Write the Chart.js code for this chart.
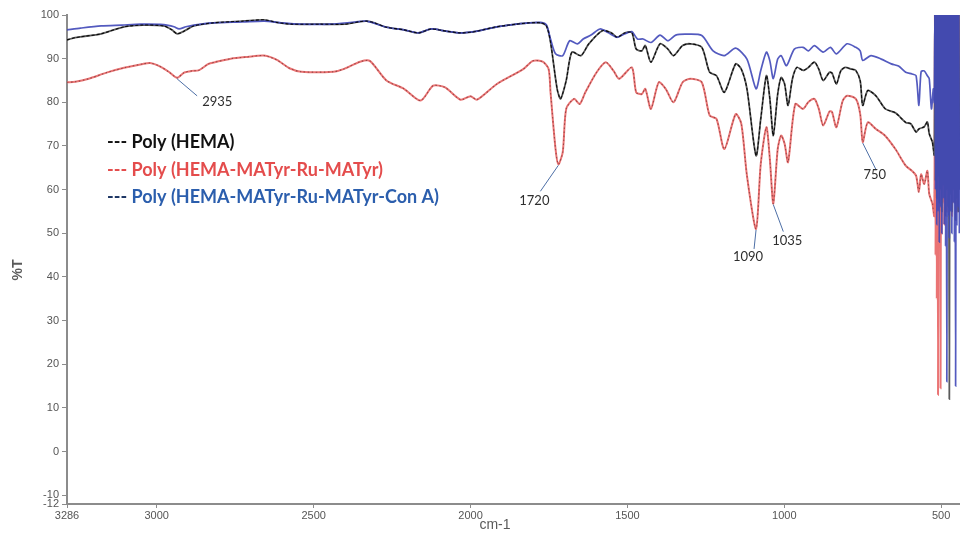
<!DOCTYPE html>
<html>
<head>
<meta charset="utf-8">
<script src="https://cdn.jsdelivr.net/npm/chart.js@4.4.1/dist/chart.umd.min.js"></script>
<style>
  html, body { margin: 0; padding: 0; background: #ffffff; }
  #wrap { width: 960px; height: 534px; position: relative; }
</style>
</head>
<body>
<div id="wrap"><canvas id="c" width="960" height="534"></canvas></div>
<script>
// Axis ticks
const xTicks = [3286, 3000, 2500, 2000, 1500, 1000, 500];
const yTicks = [100, 90, 80, 70, 60, 50, 40, 30, 20, 10, 0, -10, -12];

// Series names
const seriesNames = [
  'Poly (HEMA)',
  'Poly (HEMA-MATyr-Ru-MATyr)',
  'Poly (HEMA-MATyr-Ru-MATyr-Con A)'
];

// Poly(HEMA): wavenumber (cm-1) and transmittance (%T)
const hemaWn = [3286, 3260, 3243, 3177, 3104, 3044, 2978, 2952, 2935, 2913, 2882, 2820, 2726, 2658, 2617, 2571, 2477, 2399, 2352, 2331, 2306, 2268, 2212, 2166, 2125, 2078, 2032, 1994, 1979, 1916, 1854, 1814, 1776, 1758, 1745, 1724, 1713, 1695, 1677, 1648, 1623, 1580, 1551, 1533, 1508, 1486, 1472, 1454, 1443, 1425, 1396, 1371, 1353, 1324, 1299, 1263, 1238, 1216, 1191, 1155, 1137, 1119, 1090, 1075, 1057, 1046, 1035, 1021, 1010, 999, 988, 974, 960, 940, 923, 904, 890, 876, 856, 848, 834, 820, 806, 786, 772, 758, 750, 734, 708, 678, 646, 613, 597, 580, 571, 554, 544, 538, 528,
  522, 520, 518, 516, 514, 512, 510, 508, 506, 504, 502, 500, 498, 496, 494, 492, 490, 488, 486, 484, 482, 480, 478, 476, 474, 472, 470, 468, 466, 464, 462, 460, 458, 456, 454, 452, 450, 448, 446, 444, 442];
const hemaT = [94.3, 94.8, 95.0, 95.7, 97.3, 97.7, 97.5, 96.6, 95.7, 96.3, 97.5, 98.2, 98.6, 98.9, 98.3, 97.9, 97.9, 97.9, 98.5, 98.6, 98.2, 97.2, 96.6, 95.9, 96.8, 96.3, 95.9, 96.1, 96.3, 97.3, 97.9, 98.2, 98.2, 97.5, 93.8, 83.1, 80.8, 85.0, 91.5, 90.7, 93.4, 96.4, 95.9, 94.9, 95.9, 96.0, 92.2, 91.8, 93.0, 89.2, 93.4, 92.2, 90.7, 93.0, 93.4, 92.6, 86.9, 86.1, 82.3, 88.8, 87.6, 83.1, 67.8, 76.2, 86.1, 80.8, 72.4, 81.9, 85.7, 84.2, 79.3, 85.4, 88.0, 87.3, 88.0, 89.2, 87.6, 85.0, 86.9, 86.7, 84.2, 87.2, 88.0, 87.6, 87.3, 84.9, 79.3, 82.7, 81.5, 78.5, 77.6, 75.4, 75.1, 73.2, 73.9, 74.4, 75.5, 72.8, 70.9,
  68, 100, 62, 100, 58, 100, 63, 100, 57, 100, 60, 100, 55, 100, 61, 100, 58, 100, 54, 100, 60, 100, 56, 100, 12, 100, 59, 100, 55, 100, 60, 100, 57, 100, 53, 100, 58, 100, 55, 100, 60];

// Poly(HEMA-MATyr-Ru-MATyr)
const ruWn = [3286, 3260, 3217, 3160, 3104, 3044, 3021, 2995, 2962, 2935, 2913, 2888, 2867, 2835, 2814, 2764, 2711, 2658, 2617, 2577, 2539, 2437, 2405, 2352, 2321, 2268, 2212, 2159, 2119, 2081, 2032, 2000, 1979, 1916, 1832, 1801, 1770, 1751, 1745, 1729, 1720, 1706, 1695, 1670, 1652, 1634, 1598, 1569, 1544, 1526, 1486, 1472, 1454, 1443, 1425, 1400, 1378, 1353, 1324, 1299, 1263, 1238, 1216, 1191, 1155, 1137, 1119, 1090, 1075, 1057, 1046, 1035, 1021, 1010, 999, 988, 965, 940, 923, 904, 890, 876, 856, 848, 834, 814, 800, 772, 758, 750, 734, 708, 678, 646, 613, 593, 580, 571, 564, 554, 544, 538, 528,
  522, 520, 518, 516, 514, 512, 510, 508, 506, 504, 502, 500, 498, 496, 494, 492, 490, 488, 486, 484, 482, 480, 478, 476, 474, 472, 470, 468, 466, 464, 462, 460, 458, 456, 454, 452, 450, 448, 446, 444, 442];
const ruT = [84.6, 84.7, 85.4, 86.8, 87.9, 88.8, 89.0, 88.4, 87.0, 85.6, 86.8, 87.2, 87.3, 88.8, 89.2, 90.0, 90.4, 90.7, 89.7, 87.8, 87.0, 87.0, 87.6, 89.3, 89.5, 85.0, 83.1, 80.4, 83.8, 83.4, 80.6, 81.4, 80.6, 84.2, 87.6, 89.5, 89.3, 87.6, 82.3, 69.3, 65.8, 68.6, 78.5, 80.8, 79.6, 82.3, 86.9, 89.2, 87.2, 85.4, 88.0, 82.3, 81.9, 83.1, 78.5, 84.6, 83.1, 80.0, 84.6, 85.4, 84.6, 77.0, 76.2, 69.3, 77.3, 75.1, 63.2, 51.0, 65.9, 74.3, 67.0, 56.8, 69.3, 72.4, 70.5, 66.3, 79.6, 78.5, 80.1, 80.8, 78.5, 74.7, 77.9, 77.8, 74.3, 80.3, 81.5, 80.8, 77.3, 70.9, 75.4, 73.9, 72.3, 69.3, 65.5, 64.3, 63.2, 59.5, 63.5, 61.3, 64.3, 59.0, 56.8,
  54, 100, 45, 100, 35, 100, 13, 100, 58, 100, 14.5, 100, 50, 100, 57, 100, 52, 100, 60, 100, 55, 100, 61, 100, 56, 100, 59, 100, 54, 100, 60, 100, 57, 100, 62, 100, 55, 100, 58, 100, 61];

// Poly(HEMA-MATyr-Ru-MATyr-Con A)
const conAWn = [3286, 3243, 3177, 3111, 3051, 2978, 2945, 2929, 2907, 2882, 2820, 2726, 2658, 2602, 2539, 2446, 2368, 2331, 2268, 2212, 2166, 2125, 2078, 2032, 1979, 1916, 1854, 1814, 1776, 1758, 1745, 1729, 1706, 1684, 1659, 1641, 1616, 1587, 1562, 1533, 1508, 1486, 1468, 1450, 1425, 1396, 1371, 1346, 1310, 1263, 1227, 1191, 1155, 1119, 1090, 1075, 1057, 1046, 1035, 1021, 1010, 993, 968, 940, 923, 904, 876, 853, 834, 800, 772, 758, 750, 724, 691, 659, 636, 613, 593, 580, 571, 564, 554, 544, 538, 531, 525,
  522, 520, 518, 516, 514, 512, 510, 508, 506, 504, 502, 500, 498, 496, 494, 492, 490, 488, 486, 484, 482, 480, 478, 476, 474, 472, 470, 468, 466, 464, 462, 460, 458, 456, 454, 452, 450, 448, 446, 444, 442];
const conAT = [96.6, 97.0, 97.5, 97.7, 97.9, 97.8, 97.3, 96.8, 97.3, 97.7, 98.2, 98.4, 98.6, 98.2, 97.9, 97.9, 98.4, 98.6, 97.2, 96.6, 95.9, 96.8, 96.3, 95.9, 96.3, 97.3, 97.9, 98.2, 98.3, 97.7, 94.5, 91.1, 90.7, 94.1, 93.4, 94.5, 95.4, 96.8, 96.0, 94.9, 95.7, 96.2, 94.5, 94.5, 93.7, 95.4, 94.1, 95.4, 95.6, 95.3, 91.8, 90.7, 92.4, 89.9, 83.1, 87.3, 91.5, 89.5, 85.4, 89.9, 90.7, 88.4, 92.2, 92.6, 91.8, 93.0, 91.5, 92.6, 91.1, 93.4, 92.6, 91.8, 89.6, 90.7, 89.9, 88.8, 88.3, 86.9, 86.5, 86.1, 79.3, 87.0, 87.2, 86.1, 85.4, 78.5, 83.1,
  80, 100, 60, 100, 52, 100, 55, 100, 48, 100, 56, 100, 50, 100, 58, 100, 52, 100, 47, 100, 16, 100, 54, 100, 49, 100, 55, 100, 50, 100, 57, 100, 48, 100, 15, 100, 52, 100, 56, 100, 50];

// Absorption bands marked on the Poly(HEMA-MATyr-Ru-MATyr) trace
const peakWn = [2935, 1720, 1090, 1035, 750];

// ---- styling ----
const lineColors = ['#5a5a5a', '#ea7474', 'rgba(64, 72, 184, 0.9)'];
const legendColors = ['#111111', '#e44c4c', '#2b5ead'];
const legendDashColors = ['#111111', '#e44c4c', '#1b3463'];
const dashOverlay = ['#000000', '#5a2020', null];
const overlayStopWn = 524; // dashed texture is left off the noisy low-frequency end
// callout geometry relative to the marked point: leader end and label centre
const callouts = [
  { lx: 20, ly: 18, tx: 25, ty: 24, align: 'left' },
  { lx: -18, ly: 27, tx: -24, ty: 36, align: 'center' },
  { lx: -2, ly: 20, tx: -8, ty: 28, align: 'center' },
  { lx: 10, ly: 28, tx: 14, ty: 37, align: 'center' },
  { lx: 13, ly: 27, tx: 12, ty: 33, align: 'center' }
];

function toPoints(wn, t) { return wn.map((w, i) => ({ x: w, y: t[i] })); }

const overlayPlugin = {
  id: 'spectrumExtras',
  afterDatasetsDraw(chart) {
    const ctx = chart.ctx;
    const area = chart.chartArea;
    const stopX = chart.scales.x.getPixelForValue(overlayStopWn);
    ctx.save();
    ctx.beginPath();
    ctx.rect(area.left, area.top, stopX - area.left, area.bottom - area.top);
    ctx.clip();
    chart.data.datasets.forEach((ds, i) => {
      if (!dashOverlay[i]) return;
      const el = chart.getDatasetMeta(i).dataset;
      ctx.beginPath();
      el.path(ctx);
      ctx.setLineDash(i === 0 ? [3, 2] : [1.5, 2.5]);
      ctx.strokeStyle = dashOverlay[i];
      ctx.globalAlpha = i === 0 ? 0.9 : 0.55;
      ctx.lineWidth = 1.1;
      ctx.stroke();
    });
    ctx.restore();
  },
  afterDraw(chart) {
    const ctx = chart.ctx;
    ctx.save();

    // axis titles
    ctx.fillStyle = '#5a5a5a';
    ctx.font = 'bold 14px "Liberation Sans", Arial, sans-serif';
    ctx.textAlign = 'center';
    ctx.textBaseline = 'middle';
    ctx.save();
    ctx.translate(18, 270);
    ctx.rotate(-Math.PI / 2);
    ctx.fillText('%T', 0, 0);
    ctx.restore();
    ctx.font = '14px "Liberation Sans", Arial, sans-serif';
    ctx.fillText('cm-1', 495, 525);

    // legend
    const legendY = [142, 170, 197];
    ctx.textAlign = 'left';
    ctx.font = 'bold 18px Lato, "Open Sans", sans-serif';
    seriesNames.forEach((name, i) => {
      ctx.fillStyle = legendDashColors[i];
      ctx.fillText('---', 107, legendY[i]);
      const w = ctx.measureText('--- ').width;
      ctx.fillStyle = legendColors[i];
      ctx.fillText(name, 107 + w, legendY[i]);
    });

    // band callouts on the red trace
    const meta = chart.getDatasetMeta(1);
    ctx.font = '13px Lato, "Open Sans", sans-serif';
    peakWn.forEach((wn, k) => {
      const idx = ruWn.indexOf(wn);
      if (idx < 0) return;
      const p = meta.data[idx];
      const c = callouts[k];
      ctx.strokeStyle = '#4d6fa6';
      ctx.lineWidth = 1;
      ctx.beginPath();
      ctx.moveTo(p.x, p.y + 1);
      ctx.lineTo(p.x + c.lx, p.y + c.ly);
      ctx.stroke();
      ctx.fillStyle = '#2e2e2e';
      ctx.textAlign = c.align;
      ctx.textBaseline = 'middle';
      ctx.fillText(String(wn), p.x + c.tx, p.y + c.ty);
    });
    ctx.restore();
  }
};

const datasets = [
  { label: seriesNames[0], data: toPoints(hemaWn, hemaT), borderColor: lineColors[0], borderWidth: 1.8, order: 2 },
  { label: seriesNames[1], data: toPoints(ruWn, ruT), borderColor: lineColors[1], borderWidth: 2, order: 3 },
  { label: seriesNames[2], data: toPoints(conAWn, conAT), borderColor: lineColors[2], borderWidth: 1.7, order: 1 }
].map(d => Object.assign(d, { showLine: true, pointRadius: 0, tension: 0.25, fill: false }));

const tickFont = { family: '"Liberation Sans", Arial, sans-serif', size: 11 };

new Chart(document.getElementById('c'), {
  type: 'scatter',
  data: { datasets },
  options: {
    responsive: false,
    devicePixelRatio: 1,
    animation: false,
    layout: { padding: { top: 15, right: 0, left: 0, bottom: 0 } },
    plugins: { legend: { display: false }, tooltip: { enabled: false } },
    scales: {
      x: {
        type: 'linear',
        reverse: true,
        min: 440,
        max: 3286,
        afterBuildTicks: s => { s.ticks = xTicks.map(v => ({ value: v })); },
        afterFit: s => { s.height = 30; },
        ticks: { autoSkip: false, maxRotation: 0, color: '#555', font: tickFont, padding: 1, callback: v => String(v) },
        grid: { drawOnChartArea: false, drawTicks: true, tickLength: 4, color: '#8c8c8c' },
        border: { display: true, color: '#8c8c8c', width: 2 }
      },
      y: {
        type: 'linear',
        min: -12,
        max: 100,
        afterBuildTicks: s => { s.ticks = yTicks.map(v => ({ value: v })); },
        afterFit: s => { s.width = 67; },
        ticks: { autoSkip: false, color: '#555', font: tickFont, padding: 3, callback: v => String(v) },
        grid: { drawOnChartArea: false, drawTicks: true, tickLength: 5, color: '#8c8c8c' },
        border: { display: true, color: '#8c8c8c', width: 2 }
      }
    }
  },
  plugins: [overlayPlugin]
});
</script>
</body>
</html>
